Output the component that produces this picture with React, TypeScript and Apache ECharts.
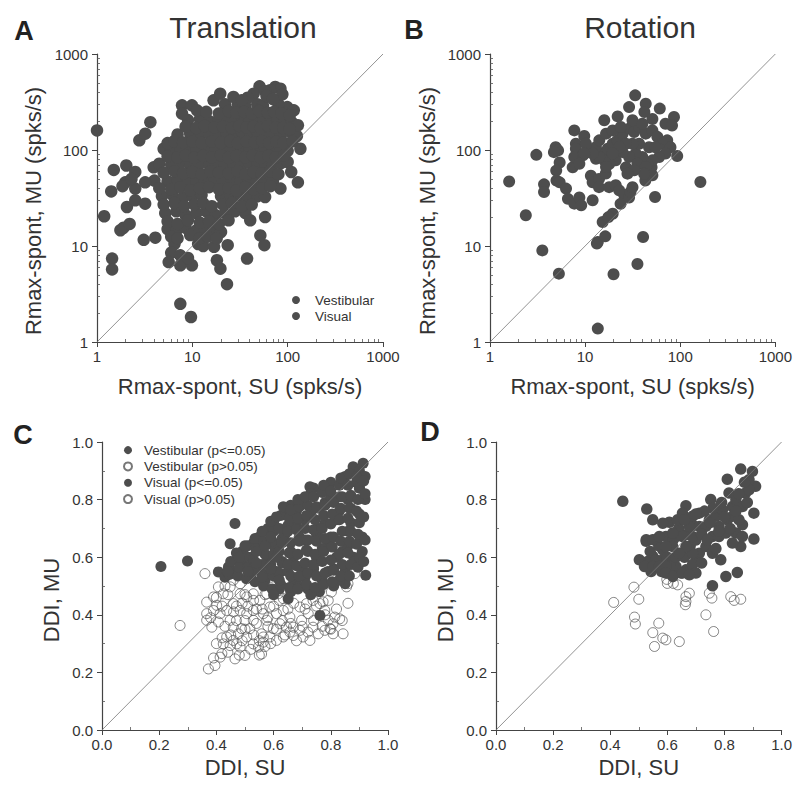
import React, { useEffect, useRef } from "react";
import * as echarts from "echarts";

const FONT = '"Liberation Sans", Arial, Helvetica, sans-serif';
const DOT = "#4d4d4d";
const TXT = "#333333";

// Panel A: Translation, Rmax-spont (SU vs MU)
const transVestibular: number[][] = [
  [50.7, 460], [74, 453], [84, 435], [65.6, 419], [44, 386], [58, 410],
  [7.8, 292], [9.9, 292], [16.7, 329], [30, 300], [36, 285], [48, 300], [55, 290], [99, 280], [116, 259], [80, 300], [22, 300],
  [9, 205], [12, 210], [15, 200], [19, 210], [23, 205], [28, 200], [34, 210], [40, 200], [47, 210], [56, 205], [66, 200], [78, 210], [92, 200], [110, 195],
  [7, 145], [9.5, 148], [12, 142], [15, 147], [18.5, 143], [23, 148], [28, 142], [34, 146], [41, 143], [49, 148], [59, 142], [70, 146], [85, 143], [110, 150], [125, 140],
  [5, 103], [6, 100], [7.5, 106], [9, 101], [11, 105], [14, 100], [17.5, 104], [22, 101], [27, 106], [33, 100], [40, 104], [48, 101], [58, 105], [70, 100], [85, 104], [100, 98], [136, 103],
  [3.93, 66], [4.5, 72], [6, 70], [7.5, 73], [9.5, 69], [12, 72], [15, 70], [18, 73], [22, 69], [27, 72], [33, 70], [40, 73], [48, 69], [58, 72], [70, 70], [85, 73], [100, 75],
  [4, 48], [5.5, 47], [7, 49], [9, 46], [11, 48], [13.5, 47], [17, 50], [21, 46], [26, 48], [32, 47], [39, 49], [47, 46], [57, 48], [70, 47], [128, 46],
  [4.8, 33], [6.2, 34], [8, 32], [10, 33], [12.5, 34], [20, 33], [25, 32], [31, 34], [38, 32], [48, 33], [58, 32.4],
  [5.2, 22], [6.8, 23], [8.5, 21], [11, 22], [14, 23], [17.5, 21], [22, 22], [28, 23], [36, 22],
  [5.5, 15], [6.8, 14.5], [8.5, 15.5], [11, 14.5], [13.5, 15], [17, 15.5], [20, 14],
  [6.5, 10.5], [11.5, 10.5], [13, 10], [16.9, 9.8], [23.5, 10.2], [57, 10.2],
  [1, 160], [1.19, 20.4], [1.44, 7.4], [1.44, 5.7], [1.41, 37], [1.5, 62], [1.76, 14.6], [1.9, 15.5], [2.03, 69], [2.06, 25.5], [1.98, 46], [1.85, 42],
];
const transVisual: number[][] = [
  [19.6, 386], [27, 357], [38, 350], [60, 365], [88, 380], [70, 340], [33, 330],
  [7.8, 239], [11.2, 259], [14, 250], [19, 240], [24, 255], [29, 245], [35, 250], [42, 240], [50, 255], [62, 245], [72, 250], [86, 240], [105, 230],
  [8.5, 175], [11, 170], [13.5, 178], [17, 172], [21, 175], [26, 170], [31, 178], [37, 172], [44, 175], [52, 170], [62, 178], [75, 172], [90, 170], [128, 181], [105, 165],
  [5.5, 118], [6.5, 124], [8, 120], [10, 123], [12.5, 118], [16, 122], [20, 119], [25, 124], [30, 118], [37, 122], [45, 120], [54, 124], [64, 118], [76, 122], [90, 119], [112, 123],
  [5.5, 86], [7, 84], [8.5, 88], [10.5, 83], [13, 87], [16, 84], [20, 88], [24, 83], [29, 87], [36, 84], [43, 88], [52, 83], [63, 87], [75, 84], [92, 88],
  [5, 58], [6.5, 60], [8, 57], [10, 59], [12.5, 56], [15.5, 60], [19, 58], [24, 57], [30, 60], [36, 56], [44, 59], [53, 57], [65, 60], [80, 56], [109, 59],
  [4.5, 40], [6, 39], [7.5, 41], [9.5, 38], [12, 40], [15, 41], [19, 39], [24, 40], [29, 38], [36, 41], [44, 39], [54, 40], [84, 39.6], [66, 42],
  [5, 27], [6.5, 28], [8.2, 26], [10.5, 27], [13, 28], [16, 26], [21, 27], [26, 28], [33, 26], [42, 27],
  [5.5, 18], [7, 17], [9, 18.5], [12, 17.5], [15, 18], [19, 17], [24, 18.5], [40.5, 18.5], [58, 20],
  [6, 12.5], [7, 12], [9.5, 13], [12, 12], [14.5, 12.5], [18, 12], [51.7, 12.9],
  [6, 8.5], [5.65, 6.8], [7.48, 8.0], [7.48, 6.3], [9.9, 6.3], [18.1, 7.1], [19.7, 5.8], [23.1, 4.0], [37.5, 7.4], [7.48, 2.5], [9.68, 1.82], [9, 7.5],
  [2.52, 59], [2.52, 39.6], [2.52, 29.9], [2.78, 126], [3.21, 148], [3.63, 195], [3.09, 11.6], [4.09, 12.2], [3.2, 46], [3.2, 27.6], [2.3, 50], [2.2, 17],
];

// Panel B: Rotation, Rmax-spont
const rotVestibular: number[][] = [
  [1.59, 47], [2.38, 20.9], [3.07, 89], [3.55, 9.0], [3.7, 43.9], [3.7, 36.5], [5.3, 5.15], [13.6, 1.38], [13.6, 11.0], [13.3, 10.6],
  [16.3, 12.6], [15.3, 17.8], [19.5, 21.7], [17.6, 20], [19.9, 5.07], [35.5, 6.5], [40.7, 12.4], [54.4, 32.4], [93, 86.6], [163, 46.4],
  [33.6, 371], [29, 280], [43.4, 304], [42, 249], [61, 270], [86, 221], [70, 188], [51, 210], [22, 224], [15.9, 204],
  [7.7, 160], [9.8, 140], [8, 116], [8, 103], [4.9, 107], [5.2, 99], [4.7, 95], [5.4, 74], [4.97, 61], [5.0, 48],
  [5.4, 46], [6.3, 39.6], [6.6, 31], [7.7, 27.6], [8.7, 32], [9.1, 26.5], [7.4, 66], [7.7, 84.6], [9.5, 88], [10.7, 95],
  [11.5, 54], [12.0, 46], [14, 50], [14, 41], [16.5, 57], [17.9, 41], [21, 43], [22.8, 38], [25.8, 34], [23.6, 27.5],
  [29, 32], [30, 36.5], [26.9, 66], [31.5, 41], [43, 48], [50, 66], [12, 30], [82, 180],
];
const rotVisual: number[][] = [
  [13.0, 81], [15.3, 92], [17.3, 103], [19.5, 116], [21.9, 126], [24.8, 148], [29.1, 167], [32.8, 154], [37.0, 174], [43.4, 148],
  [51, 160], [57.5, 137], [64.9, 116], [73, 126], [79, 107], [70, 92], [60, 84.6], [51, 78], [45, 72], [40, 84.6],
  [34, 92], [29, 84.6], [24.8, 95], [21, 78], [18, 72], [15.9, 78], [14.1, 84.6], [13, 107], [14.1, 126], [16.6, 148],
  [19.5, 160], [23.7, 174], [31.5, 204], [40, 188], [47, 107], [55, 107], [37, 116], [31.5, 116], [26.8, 116], [22.9, 107],
  [19.5, 92], [35.5, 72], [43.4, 66.5], [51, 54.5], [41.7, 56.7], [32.8, 61.4], [27.9, 56.7], [16.6, 66.5], [12.0, 92], [10.2, 116],
  [9.8, 92], [8.7, 72],
];

// Panel C: Translation, DDI
const transVestSig: number[][] = [
  [0.206, 0.568], [0.299, 0.587], [0.465, 0.717], [0.448, 0.647], [0.922, 0.537], [0.651, 0.456], [0.85, 0.508], [0.407, 0.549], [0.442, 0.566],
  [0.43, 0.53], [0.46, 0.55], [0.47, 0.59], [0.49, 0.62], [0.5, 0.57], [0.52, 0.53], [0.52, 0.6], [0.53, 0.65], [0.55, 0.67],
  [0.55, 0.56], [0.57, 0.52], [0.58, 0.6], [0.58, 0.7], [0.6, 0.72], [0.6, 0.64], [0.61, 0.55], [0.62, 0.49], [0.63, 0.58],
  [0.64, 0.68], [0.64, 0.76], [0.66, 0.78], [0.66, 0.62], [0.67, 0.52], [0.68, 0.71], [0.7, 0.8], [0.7, 0.56], [0.71, 0.66], [0.72, 0.49],
  [0.73, 0.75], [0.74, 0.84], [0.75, 0.6], [0.76, 0.7], [0.77, 0.52], [0.78, 0.79], [0.79, 0.64], [0.8, 0.86], [0.81, 0.56], [0.82, 0.73],
  [0.83, 0.81], [0.84, 0.62], [0.85, 0.88], [0.86, 0.69], [0.87, 0.77], [0.88, 0.91], [0.89, 0.58], [0.9, 0.84], [0.91, 0.67], [0.92, 0.8],
  [0.445, 0.54], [0.45, 0.585], [0.475, 0.535], [0.48, 0.565], [0.47, 0.615], [0.505, 0.525], [0.51, 0.565], [0.5, 0.605], [0.51, 0.64],
  [0.535, 0.515], [0.54, 0.555], [0.53, 0.59], [0.54, 0.63], [0.535, 0.665], [0.565, 0.5], [0.57, 0.54], [0.56, 0.575], [0.57, 0.61],
  [0.565, 0.655], [0.57, 0.69], [0.595, 0.49], [0.6, 0.535], [0.59, 0.575], [0.6, 0.61], [0.595, 0.655], [0.6, 0.69], [0.59, 0.725],
  [0.625, 0.505], [0.62, 0.545], [0.63, 0.585], [0.62, 0.62], [0.63, 0.665], [0.62, 0.7], [0.625, 0.745],
];
const transVestNs: number[][] = [
  [0.36, 0.543], [0.273, 0.363], [0.372, 0.212], [0.395, 0.224], [0.413, 0.253], [0.419, 0.265], [0.465, 0.247], [0.5, 0.259], [0.558, 0.264],
  [0.424, 0.299], [0.448, 0.293], [0.459, 0.311], [0.477, 0.334], [0.506, 0.323], [0.517, 0.352], [0.488, 0.352], [0.558, 0.334], [0.564, 0.305],
  [0.366, 0.404], [0.39, 0.415], [0.413, 0.404], [0.436, 0.415], [0.366, 0.444], [0.39, 0.462], [0.401, 0.433], [0.407, 0.497], [0.424, 0.473],
  [0.459, 0.439], [0.483, 0.415], [0.506, 0.404], [0.529, 0.415], [0.529, 0.381], [0.564, 0.404], [0.576, 0.381],
  [0.587, 0.427], [0.61, 0.404], [0.634, 0.415], [0.657, 0.392], [0.669, 0.357], [0.698, 0.381], [0.721, 0.404], [0.645, 0.357],
  [0.448, 0.381], [0.459, 0.357], [0.471, 0.299], [0.483, 0.288], [0.436, 0.323], [0.366, 0.381], [0.384, 0.357], [0.407, 0.375],
  [0.38, 0.39], [0.4, 0.46], [0.42, 0.43], [0.43, 0.36], [0.44, 0.47], [0.45, 0.33], [0.46, 0.41], [0.47, 0.38], [0.49, 0.44],
  [0.49, 0.31], [0.5, 0.35], [0.51, 0.43], [0.52, 0.28], [0.53, 0.33], [0.53, 0.45], [0.54, 0.37], [0.55, 0.31], [0.56, 0.42],
  [0.42, 0.32], [0.44, 0.27], [0.4, 0.3], [0.39, 0.25], [0.48, 0.26], [0.55, 0.26], [0.5, 0.47], [0.43, 0.5],
];
const transVisSig: number[][] = [
  [0.762, 0.398], [0.634, 0.775], [0.727, 0.845], [0.878, 0.914], [0.913, 0.926],
  [0.44, 0.55], [0.48, 0.6], [0.5, 0.64], [0.51, 0.55], [0.54, 0.58], [0.54, 0.62], [0.56, 0.69], [0.56, 0.53],
  [0.57, 0.64], [0.59, 0.56], [0.59, 0.67], [0.61, 0.6], [0.61, 0.74], [0.62, 0.52], [0.63, 0.65], [0.65, 0.55], [0.65, 0.71], [0.67, 0.6],
  [0.68, 0.76], [0.69, 0.5], [0.69, 0.67], [0.71, 0.53], [0.71, 0.73], [0.72, 0.62], [0.73, 0.82], [0.74, 0.56], [0.75, 0.68], [0.76, 0.77],
  [0.76, 0.48], [0.77, 0.63], [0.78, 0.72], [0.79, 0.55], [0.8, 0.81], [0.8, 0.67], [0.81, 0.5], [0.82, 0.6], [0.83, 0.76], [0.84, 0.86],
  [0.85, 0.55], [0.86, 0.64], [0.86, 0.8], [0.87, 0.72], [0.88, 0.6], [0.89, 0.86], [0.9, 0.75], [0.9, 0.9], [0.91, 0.62], [0.92, 0.88],
  [0.6, 0.47], [0.66, 0.48], [0.73, 0.47], [0.83, 0.52],
  [0.655, 0.495], [0.66, 0.535], [0.65, 0.575], [0.655, 0.615], [0.66, 0.65], [0.65, 0.69], [0.655, 0.735], [0.66, 0.765],
  [0.685, 0.49], [0.69, 0.535], [0.68, 0.57], [0.685, 0.61], [0.69, 0.655], [0.68, 0.695], [0.685, 0.735], [0.69, 0.775], [0.685, 0.8],
  [0.715, 0.505], [0.72, 0.545], [0.71, 0.58], [0.715, 0.625], [0.72, 0.66], [0.71, 0.7], [0.715, 0.745], [0.72, 0.78], [0.71, 0.81],
  [0.745, 0.495], [0.75, 0.535], [0.74, 0.575], [0.745, 0.61], [0.75, 0.655], [0.74, 0.695], [0.745, 0.73], [0.75, 0.775], [0.74, 0.81],
  [0.775, 0.505], [0.78, 0.545], [0.77, 0.585], [0.775, 0.62], [0.78, 0.665], [0.77, 0.7], [0.775, 0.745], [0.78, 0.78], [0.77, 0.825], [0.775, 0.85],
  [0.805, 0.515], [0.81, 0.555], [0.8, 0.59], [0.805, 0.635], [0.81, 0.67], [0.8, 0.715], [0.805, 0.75], [0.81, 0.79], [0.8, 0.83],
  [0.835, 0.535], [0.84, 0.575], [0.83, 0.61], [0.835, 0.655], [0.84, 0.69], [0.83, 0.73], [0.835, 0.77], [0.84, 0.81], [0.83, 0.85], [0.835, 0.875],
  [0.865, 0.535], [0.87, 0.575], [0.86, 0.615], [0.865, 0.655], [0.87, 0.69], [0.86, 0.735], [0.865, 0.77], [0.87, 0.815], [0.86, 0.85], [0.865, 0.89],
  [0.895, 0.565], [0.9, 0.6], [0.89, 0.645], [0.895, 0.68], [0.9, 0.72], [0.89, 0.76], [0.895, 0.8], [0.9, 0.84], [0.89, 0.88],
  [0.915, 0.585], [0.92, 0.66], [0.915, 0.74], [0.92, 0.82], [0.915, 0.865],
];
const transVisNs: number[][] = [
  [0.692, 0.427], [0.715, 0.439], [0.738, 0.45], [0.762, 0.439], [0.779, 0.415], [0.791, 0.381], [0.808, 0.369], [0.831, 0.386], [0.843, 0.334],
  [0.814, 0.392], [0.727, 0.311], [0.669, 0.328], [0.634, 0.323], [0.802, 0.479], [0.855, 0.497], [0.884, 0.543], [0.86, 0.508], [0.773, 0.445],
  [0.599, 0.497], [0.616, 0.473], [0.634, 0.456], [0.576, 0.473], [0.552, 0.45], [0.529, 0.473], [0.506, 0.462], [0.483, 0.473],
  [0.448, 0.497], [0.459, 0.52], [0.483, 0.508], [0.529, 0.299], [0.547, 0.288], [0.564, 0.323], [0.587, 0.323], [0.599, 0.352],
  [0.622, 0.369], [0.61, 0.311], [0.657, 0.34], [0.692, 0.346], [0.703, 0.323], [0.738, 0.357], [0.756, 0.334], [0.779, 0.346],
  [0.797, 0.352], [0.808, 0.334], [0.762, 0.485], [0.791, 0.45], [0.54, 0.42], [0.5, 0.38], [0.47, 0.43], [0.58, 0.36],
  [0.57, 0.29], [0.57, 0.47], [0.58, 0.39], [0.59, 0.3], [0.6, 0.43], [0.61, 0.35], [0.62, 0.45], [0.63, 0.38], [0.64, 0.33],
  [0.65, 0.42], [0.66, 0.37], [0.67, 0.44], [0.68, 0.31], [0.7, 0.36], [0.71, 0.42], [0.72, 0.34], [0.74, 0.38], [0.75, 0.43],
  [0.77, 0.36], [0.78, 0.4], [0.8, 0.35], [0.82, 0.42], [0.84, 0.38], [0.86, 0.44],
];

// Panel D: Rotation, DDI
const rotVestSig: number[][] = [
  [0.444, 0.794], [0.528, 0.767], [0.81, 0.871], [0.857, 0.906], [0.898, 0.898], [0.903, 0.753], [0.903, 0.663], [0.857, 0.637],
  [0.845, 0.547], [0.805, 0.533], [0.758, 0.501], [0.787, 0.591], [0.863, 0.713], [0.909, 0.846], [0.886, 0.869], [0.752, 0.8],
  [0.665, 0.779], [0.607, 0.721], [0.63, 0.672], [0.595, 0.672], [0.584, 0.626], [0.526, 0.655], [0.561, 0.661], [0.549, 0.603],
  [0.531, 0.585], [0.543, 0.55], [0.584, 0.591], [0.607, 0.585], [0.63, 0.568], [0.648, 0.545], [0.665, 0.556],
  [0.54, 0.62], [0.56, 0.59], [0.57, 0.64], [0.58, 0.55], [0.6, 0.6], [0.61, 0.57], [0.62, 0.66], [0.63, 0.6], [0.64, 0.7],
  [0.66, 0.6], [0.67, 0.68], [0.68, 0.64], [0.69, 0.71], [0.7, 0.59], [0.7, 0.66],
];
const rotVisSig: number[][] = [
  [0.688, 0.574], [0.7, 0.545], [0.712, 0.614], [0.688, 0.614], [0.665, 0.637], [0.688, 0.672], [0.712, 0.707], [0.735, 0.707],
  [0.747, 0.73], [0.77, 0.742], [0.781, 0.707], [0.758, 0.672], [0.735, 0.637], [0.758, 0.614], [0.781, 0.672], [0.805, 0.684],
  [0.81, 0.73], [0.828, 0.776], [0.84, 0.8], [0.816, 0.823], [0.793, 0.765], [0.828, 0.742], [0.851, 0.73], [0.863, 0.776],
  [0.874, 0.823], [0.886, 0.834], [0.84, 0.684], [0.863, 0.672], [0.828, 0.649], [0.502, 0.591], [0.52, 0.568], [0.549, 0.568],
  [0.572, 0.568], [0.595, 0.568], [0.595, 0.545], [0.619, 0.533], [0.653, 0.545], [0.677, 0.539], [0.642, 0.614], [0.619, 0.637],
  [0.595, 0.637], [0.526, 0.661], [0.549, 0.661], [0.572, 0.672], [0.549, 0.73], [0.584, 0.718], [0.636, 0.73], [0.653, 0.753],
  [0.688, 0.742], [0.712, 0.753], [0.677, 0.707], [0.653, 0.672], [0.619, 0.684],
  [0.72, 0.68], [0.72, 0.58], [0.74, 0.66], [0.75, 0.72], [0.76, 0.77], [0.77, 0.63], [0.78, 0.69], [0.79, 0.79], [0.8, 0.74],
  [0.82, 0.7], [0.84, 0.76], [0.85, 0.82], [0.87, 0.86], [0.88, 0.79], [0.73, 0.76], [0.7, 0.75], [0.66, 0.73],
];
const rotVestNs: number[][] = [
  [0.412, 0.443], [0.483, 0.496], [0.5, 0.454], [0.485, 0.392], [0.488, 0.368], [0.57, 0.371], [0.549, 0.338], [0.555, 0.29],
  [0.584, 0.319], [0.595, 0.313], [0.642, 0.307], [0.598, 0.523], [0.621, 0.509], [0.6, 0.509],
];
const rotVisNs: number[][] = [
  [0.636, 0.504], [0.665, 0.446], [0.663, 0.435], [0.677, 0.475], [0.747, 0.475], [0.756, 0.458], [0.735, 0.4], [0.762, 0.342],
  [0.822, 0.463], [0.834, 0.45], [0.857, 0.454], [0.665, 0.463],
];

const diagLog: number[][] = [[1, 1], [1000, 1000]];
const diagLin: number[][] = [[0, 0], [1, 1]];

// minor tick positions
const minorLogTicks = [2, 3, 4, 5, 6, 7, 8, 9, 20, 30, 40, 50, 60, 70, 80, 90, 200, 300, 400, 500, 600, 700, 800, 900];
const minorLinTicks = [0.1, 0.3, 0.5, 0.7, 0.9];

const legendA = ["Vestibular", "Visual"];
const legendC = ["Vestibular (p<=0.05)", "Vestibular (p>0.05)", "Visual (p<=0.05)", "Visual (p>0.05)"];

const rTitle = "Rmax-spont, MU (spks/s)";
const rXTitle = "Rmax-spont, SU (spks/s)";
const dTitle = "DDI, MU";
const dXTitle = "DDI, SU";

function axisBase(gridIndex: number, isX: boolean) {
  return {
    gridIndex,
    position: isX ? "bottom" : "left",
    nameLocation: "middle",
    nameTextStyle: { fontSize: 22, color: TXT, fontFamily: FONT },
    axisLine: { show: true, onZero: false, lineStyle: { color: "#444", width: 1.2 } },
    axisTick: { show: true, length: 5, lineStyle: { color: "#444", width: 1 } },
    minorTick: { show: false },
    splitLine: { show: false },
    axisLabel: { fontSize: 15, color: TXT, fontFamily: FONT, margin: isX ? 7 : 9 },
  };
}

function logAxis(gridIndex: number, isX: boolean, name: string) {
  const b = axisBase(gridIndex, isX);
  return {
    ...b,
    type: "log",
    logBase: 10,
    min: 1,
    max: 1000,
    name,
    nameGap: isX ? 33 : 52,
    axisLabel: { ...b.axisLabel, formatter: (v: number) => String(Math.round(v)) },
  };
}

function linAxis(gridIndex: number, isX: boolean, name: string) {
  const b = axisBase(gridIndex, isX);
  return {
    ...b,
    type: "value",
    min: 0,
    max: 1,
    interval: 0.2,
    name,
    nameGap: isX ? 26 : 41,
    axisLabel: { ...b.axisLabel, formatter: (v: number) => v.toFixed(1) },
  };
}

function minorAxis(gridIndex: number, isX: boolean, log: boolean) {
  return {
    gridIndex,
    position: isX ? "bottom" : "left",
    type: log ? "log" : "value",
    ...(log ? { logBase: 10, min: 1, max: 1000 } : { min: 0, max: 1, interval: 0.2 }),
    axisLine: { show: false },
    axisLabel: { show: false },
    splitLine: { show: false },
    axisTick: {
      show: true,
      inside: true,
      length: 3,
      customValues: log ? minorLogTicks : minorLinTicks,
      lineStyle: { color: "#555", width: 0.8 },
    },
  };
}

function filled(name: string, data: number[][], idx: number, size: number) {
  return {
    type: "scatter",
    name,
    data,
    xAxisIndex: idx,
    yAxisIndex: idx,
    symbol: "circle",
    symbolSize: size,
    itemStyle: { color: DOT, opacity: 1 },
    z: 3,
  };
}

function open(name: string, data: number[][], idx: number) {
  return {
    type: "scatter",
    name,
    data,
    xAxisIndex: idx,
    yAxisIndex: idx,
    symbol: "circle",
    symbolSize: 10,
    itemStyle: { color: "rgba(255,255,255,0)", borderColor: "#555", borderWidth: 0.9 },
    z: 2,
  };
}

function diag(data: number[][], idx: number) {
  return {
    type: "line",
    data,
    xAxisIndex: idx,
    yAxisIndex: idx,
    showSymbol: false,
    symbol: "none",
    silent: true,
    lineStyle: { color: "#777", width: 0.8 },
    z: 5,
  };
}

function label(text: string, x: number, y: number, size: number, bold: boolean, rotate = 0) {
  return {
    type: "text",
    x,
    y,
    rotation: rotate,
    style: {
      text,
      fontSize: size,
      fontWeight: bold ? "bold" : "normal",
      fontFamily: FONT,
      fill: bold ? "#222" : TXT,
      textAlign: "center",
      textVerticalAlign: "middle",
    },
  };
}

export default function App() {
  const ref = useRef<HTMLDivElement>(null);
  useEffect(() => {
    if (!ref.current) return;
    const chart = echarts.init(ref.current, undefined, { renderer: "svg" });
    const option: any = {
      animation: false,
      backgroundColor: "#fff",
      textStyle: { fontFamily: FONT },
      grid: [
        { left: 97, top: 54, width: 286, height: 288 },
        { left: 490, top: 54, width: 287, height: 288 },
        { left: 102, top: 442, width: 286, height: 288 },
        { left: 496, top: 442, width: 287, height: 288 },
      ],
      xAxis: [
        logAxis(0, true, rXTitle), logAxis(1, true, rXTitle), linAxis(2, true, dXTitle), linAxis(3, true, dXTitle),
        minorAxis(0, true, true), minorAxis(1, true, true), minorAxis(2, true, false), minorAxis(3, true, false),
      ],
      yAxis: [
        logAxis(0, false, ""), logAxis(1, false, ""), linAxis(2, false, ""), linAxis(3, false, ""),
        minorAxis(0, false, true), minorAxis(1, false, true), minorAxis(2, false, false), minorAxis(3, false, false),
      ],
      legend: [
        {
          data: legendA,
          orient: "vertical",
          left: 292,
          top: 292,
          padding: 0,
          itemGap: 0,
          itemWidth: 8,
          itemHeight: 8,
          icon: "circle",
          selectedMode: false,
          textStyle: { fontSize: 13.5, color: TXT, fontFamily: FONT, lineHeight: 16, padding: [0, 0, 0, 10] },
        },
        {
          data: legendC,
          orient: "vertical",
          left: 123,
          top: 442,
          padding: 0,
          itemGap: 0,
          itemWidth: 8,
          itemHeight: 8,
          selectedMode: false,
          textStyle: { fontSize: 13.5, color: TXT, fontFamily: FONT, lineHeight: 16.3, padding: [0, 0, 0, 7] },
        },
      ],
      graphic: [
        label("Translation", 243, 27, 30, false),
        label("Rotation", 640, 27, 30, false),
        label("A", 24, 31, 27, true),
        label("B", 414, 30, 27, true),
        label("C", 23, 435, 27, true),
        label("D", 430, 432, 27, true),
        label(rTitle, 33, 211, 22, false, Math.PI / 2),
        label(rTitle, 427, 211, 22, false, Math.PI / 2),
        label(dTitle, 51, 600, 22, false, Math.PI / 2),
        label(dTitle, 445, 600, 22, false, Math.PI / 2),
      ],
      series: [
        filled("Vestibular", transVestibular, 0, 12.5),
        filled("Visual", transVisual, 0, 12.5),
        diag(diagLog, 0),
        filled("Vestibular", rotVestibular, 1, 12),
        filled("Visual", rotVisual, 1, 12),
        diag(diagLog, 1),
        open("Vestibular (p>0.05)", transVestNs, 2),
        open("Visual (p>0.05)", transVisNs, 2),
        filled("Vestibular (p<=0.05)", transVestSig, 2, 11),
        filled("Visual (p<=0.05)", transVisSig, 2, 11),
        diag(diagLin, 2),
        open("Vestibular (p>0.05)", rotVestNs, 3),
        open("Visual (p>0.05)", rotVisNs, 3),
        filled("Vestibular (p<=0.05)", rotVestSig, 3, 11.5),
        filled("Visual (p<=0.05)", rotVisSig, 3, 11.5),
        diag(diagLin, 3),
      ],
    };
    chart.setOption(option);
    return () => chart.dispose();
  }, []);
  return (
    <div
      ref={ref}
      style={{ position: "fixed", left: 0, top: 0, width: 795, height: 787, background: "#fff" }}
    />
  );
}
